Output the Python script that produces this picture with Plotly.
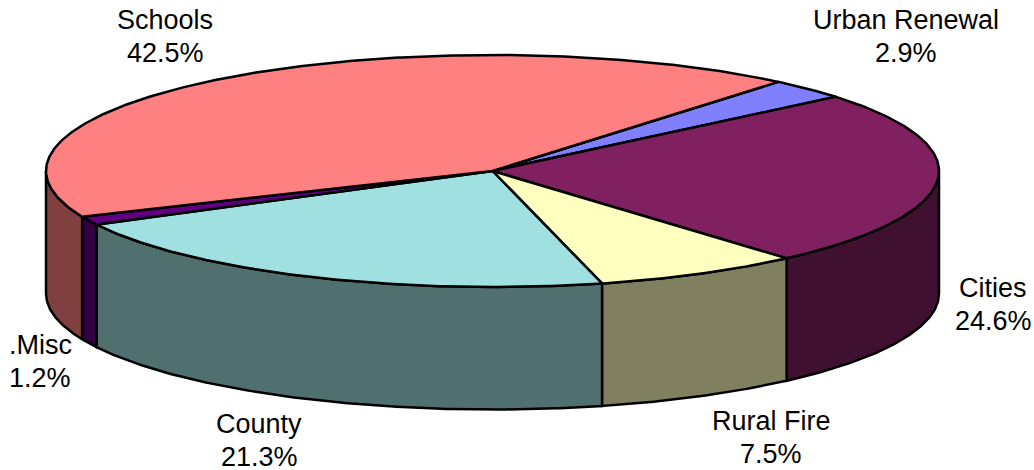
import numpy as np
import plotly.graph_objects as go

categories = ["Urban Renewal", "Cities", "Rural Fire", "County", ".Misc", "Schools"]
shares = [2.9, 24.6, 7.5, 21.3, 1.2, 42.5]
top_colors = ["#8080FF", "#802060", "#FFFFC0", "#A0E0E0", "#600080", "#FF8080"]
side_colors = ["#404080", "#401030", "#808060", "#507070", "#300040", "#804040"]
label_xy = [(906, 20), (993, 288), (771, 421), (259, 424), (40, 345), (165, 20)]

CX, CY, RX, RY, DEPTH = 492.5, 171, 446.5, 116, 122.5
START = 50.2
LINE_STEP = 33


def arc(a, b, dy=0.0):
    t = np.radians(np.linspace(a, b, max(2, int(abs(b - a) * 2) + 1)))
    return CX + RX * np.cos(t), CY - RY * np.sin(t) + dy


fig = go.Figure()
angles = START - np.concatenate([[0], np.cumsum(shares)]) * 3.6

# side walls: only the front half of the cylinder (angles -180..0) is visible
for i in range(len(shares)):
    a = min(angles[i], 0)
    b = max(angles[i + 1], -180)
    if a <= b:
        continue
    x1, y1 = arc(a, b)
    x2, y2 = arc(b, a, DEPTH)
    fig.add_trace(go.Scatter(
        x=np.r_[x1, x2, x1[0]], y=np.r_[y1, y2, y1[0]], mode="lines", fill="toself",
        fillcolor=side_colors[i], line=dict(color="black", width=2.5), hoverinfo="skip"))

# top slices
for i in range(len(shares)):
    x1, y1 = arc(angles[i], angles[i + 1])
    fig.add_trace(go.Scatter(
        x=np.r_[CX, x1, CX], y=np.r_[CY, y1, CY], mode="lines", fill="toself",
        fillcolor=top_colors[i], line=dict(color="black", width=2.5), hoverinfo="skip"))

for name, share, (lx, ly) in zip(categories, shares, label_xy):
    for k, line in enumerate((name, f"{share:.1f}%")):
        fig.add_annotation(x=lx, y=ly + k * LINE_STEP, text=line, showarrow=False,
                           font=dict(family="Liberation Sans", size=27, color="black"),
                           xanchor="center", yanchor="middle", align="center")

fig.update_layout(
    width=1034, height=470, margin=dict(l=0, r=0, t=0, b=0),
    paper_bgcolor="white", plot_bgcolor="white", showlegend=False,
    xaxis=dict(range=[0, 1034], visible=False, fixedrange=True),
    yaxis=dict(range=[470, 0], visible=False, fixedrange=True),
)
fig.write_html("out.html", config={"displayModeBar": False},
               post_script="document.body.style.margin='0';document.documentElement.style.overflow='hidden';")
